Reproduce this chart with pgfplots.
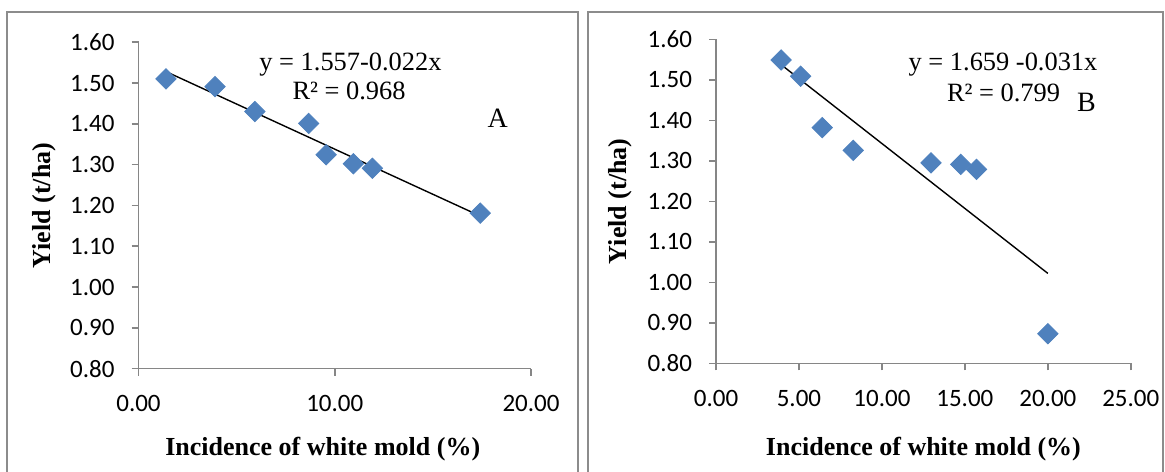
\documentclass[border=0pt]{standalone}
\usepackage{pgfplots}
\pgfplotsset{compat=1.18}
\usepackage{fontspec}
\setmainfont{Liberation Serif}
\newfontfamily\carlito{Carlito}
\definecolor{mk}{HTML}{4F81BD}
\definecolor{ax}{HTML}{868686}
\definecolor{fr}{HTML}{8C8C8C}

\tikzset{eq/.style={font=\fontsize{13.2}{15}\selectfont, anchor=base}}
\pgfplotsset{
  yieldplot/.style={
    scale only axis,
    axis lines=left,
    axis line style={-, ax, line width=0.8pt},
    ymin=0.8, ymax=1.6,
    ytick={0.8,0.9,1.0,1.1,1.2,1.3,1.4,1.5,1.6},
    xmin=0,
    tick align=outside,
    major tick length=3.5pt,
    tick style={ax, line width=0.8pt},
    ticklabel style={font=\carlito\fontsize{12.5}{14}\selectfont},
    xticklabel style={yshift=-6.5pt},
    yticklabel style={xshift=-5pt},
    /pgf/number format/fixed,
    /pgf/number format/fixed zerofill,
    /pgf/number format/precision=2,
    /pgf/number format/assume math mode=true,
    label style={font=\bfseries\fontsize{13}{15}\selectfont},
    xlabel={Incidence of white mold (\%)},
    ylabel={Yield (t/ha)},
    clip=false,
  },
  pts/.style={only marks, mark=square*, mark size=3.6pt,
    mark options={rotate=45, fill=mk, draw=mk}},
  fit/.style={no marks, black, line width=0.7pt},
}

\begin{document}
\begin{tikzpicture}
\path[use as bounding box] (0pt,0pt) rectangle (582.5pt,-235.5pt);
\begin{scope}
\clip (0pt,0pt) rectangle (582.5pt,-235.5pt);
\draw[fr, line width=0.9pt] (3.4pt,-5.9pt) rectangle (289pt,-245pt);
\draw[fr, line width=0.9pt] (294pt,-5.9pt) rectangle (581.5pt,-245pt);
\end{scope}

% A
\begin{axis}[yieldplot,
    at={(69.25pt,-184.3pt)}, anchor=south west,
    width=196.25pt, height=163.2pt,
    xmax=20, xtick={0,10,20},
    x label style={at={(axis description cs:0.5,0)}, anchor=base, xshift=-6pt, yshift=-43.6pt},
    y label style={at={(axis description cs:-0.24,0.5)}, anchor=center},
  ]
  \addplot[pts] coordinates {
    (1.40,1.510) (3.90,1.491) (5.93,1.430) (8.67,1.401)
    (9.56,1.324) (10.95,1.302) (11.92,1.291) (17.41,1.181)};
  \addplot[fit] coordinates {(1.40,1.528) (17.41,1.174)};
  \node[eq] at (axis cs:10.8,1.530) {y = 1.557-0.022x};
  \node[eq] at (axis cs:10.73,1.460) {R² = 0.968};
  \node[eq, font=\fontsize{14}{16}\selectfont] at (axis cs:18.3,1.390) {A};
\end{axis}

% B
\begin{axis}[yieldplot,
    at={(358pt,-181.65pt)}, anchor=south west,
    width=207.4pt, height=162pt,
    xmax=25, xtick={0,5,10,15,20,25},
    x label style={at={(axis description cs:0.5,0)}, anchor=base, yshift=-46.2pt},
    y label style={at={(axis description cs:-0.231,0.5)}, anchor=center},
  ]
  \addplot[pts] coordinates {
    (3.92,1.549) (5.10,1.509) (6.40,1.382) (8.27,1.326)
    (12.96,1.295) (14.75,1.291) (15.70,1.279) (20.00,0.873)};
  \addplot[fit] coordinates {(4.00,1.535) (20.00,1.022)};
  \node[eq] at (axis cs:17.30,1.524) {y = 1.659 -0.031x};
  \node[eq] at (axis cs:17.33,1.446) {R² = 0.799};
  \node[eq, font=\fontsize{14}{16}\selectfont] at (axis cs:22.33,1.421) {B};
\end{axis}
\end{tikzpicture}
\end{document}
